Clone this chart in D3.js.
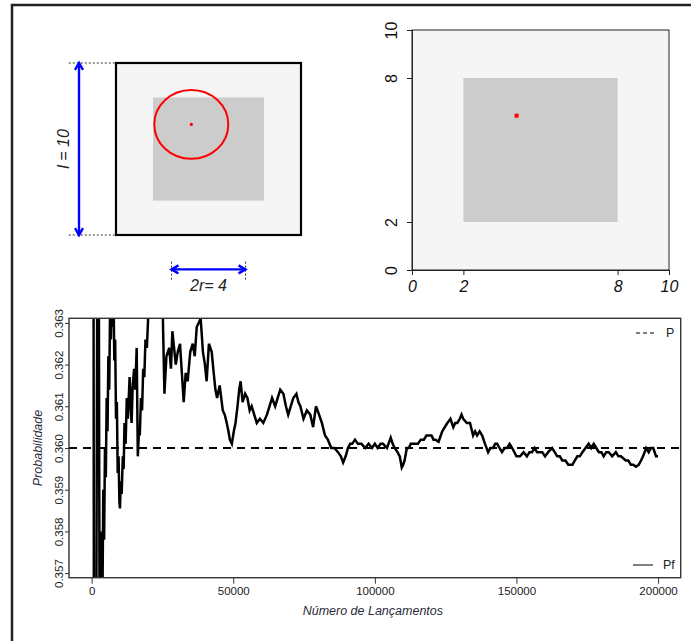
<!DOCTYPE html>
<html>
<head>
<meta charset="utf-8">
<script src="https://cdn.jsdelivr.net/npm/d3@7"></script>
<style>
  body { margin: 0; background: #fff; }
  svg { display: block; font-family: "Liberation Sans", Arial, sans-serif; }
</style>
</head>
<body>
<div id="chart"></div>
<script>
// quadrado de lado l, moeda de raio r
const lado = 10;
const raio = 2;
const centro = [4.07, 6.43];
const quadTicks = [0, 2, 8, 10];

// frequencia relativa acumulada
const lancamentos = [
  10, 700, 1000, 2300, 2900, 3200,
  3500, 3800, 4100, 4400, 4700, 5000, 5300, 5600, 5900, 6200, 6500, 6800, 7100, 7400, 7700,
  8000, 8300, 8600, 8900, 9200, 9500, 9800, 10000, 10300, 10600, 11000, 11300, 11600, 12000, 12400,
  12800, 13400, 13800, 14100, 14500, 15000, 15400, 15900, 16300, 16700, 17000, 17400, 17800, 18200, 18600,
  19000, 19500, 20000, 21000, 22000, 23000, 24000, 25000, 25700, 26400, 27400, 28000, 28500, 29700, 30400,
  31200, 32500, 33200, 33900, 34800, 35700, 36400, 37100, 38500, 39300, 40000, 40600, 41400, 42400, 43100,
  43700, 44300, 45200, 46300, 47000, 47700, 48300, 48800, 49500, 50200, 50800, 51500, 52100, 52600, 53300,
  54200, 55000, 55800, 56500, 57400, 58300, 59400, 60600, 61900, 62800, 63700, 64800, 65700, 66600, 67700,
  68600, 69400, 70300, 71200, 72300, 73000, 73700, 74800, 76000, 77200, 78200, 79200, 80300, 81300, 82400,
  83400, 84600, 85700, 87000, 88000, 88800, 89700, 90500, 91300, 92000, 93000, 94000, 95300, 96600, 97800,
  99000, 100000, 101000, 102000, 102900, 104300, 105600, 106300, 107000, 108000, 108800, 109500, 110000, 110500, 111300,
  112000, 112700, 114000, 115200, 116200, 117300, 118200, 119000, 120000, 120700, 121400, 122500, 123800, 124700, 125600,
  126700, 127700, 128400, 129100, 130000, 130600, 131200, 132500, 133600, 134700, 135400, 136100, 137000, 137900, 138900,
  140000, 140800, 141700, 142500, 143200, 144000, 144900, 145800, 146700, 147600, 148500, 150000, 151300, 152500, 153700,
  154600, 155500, 156400, 157300, 158200, 159100, 160100, 161200, 162600, 163500, 164400, 165300, 166200, 167300, 168300,
  169800, 170600, 171500, 172400, 173300, 174400, 175500, 176400, 177300, 178200, 179100, 180000, 180800, 181700, 182600,
  183800, 185100, 186000, 186900, 188600, 189500, 190400, 191300, 192200, 193200, 194000, 194700, 195800, 196700, 197500,
  198300, 199300, 200000
];
const pf = [
  0.420, 0.362, 0.340, 0.372, 0.352, 0.3562,
  0.3580, 0.3562, 0.3590, 0.3578, 0.3600, 0.3593, 0.3612, 0.3604, 0.3622, 0.3614, 0.3633, 0.3626, 0.3640, 0.3629, 0.3638,
  0.3621, 0.3626, 0.3607, 0.3611, 0.3594, 0.3598, 0.3587, 0.35855, 0.3592, 0.3589, 0.3598, 0.3595, 0.3606, 0.3601, 0.3612,
  0.3607, 0.3617, 0.3610, 0.3606, 0.3615, 0.3619, 0.3614, 0.3624, 0.3598, 0.3604, 0.3603, 0.3612, 0.3609, 0.3619, 0.3617,
  0.3626, 0.3624, 0.3632, 0.3635, 0.3631, 0.3637, 0.3633, 0.3636, 0.3613, 0.3622, 0.3624, 0.3619, 0.3628, 0.3620, 0.3623,
  0.3625, 0.3611, 0.3618, 0.3616, 0.3623, 0.3625, 0.3622, 0.3629, 0.3631, 0.3623, 0.3620, 0.3616, 0.3625, 0.3623, 0.3618,
  0.3614, 0.3612, 0.3615, 0.3609, 0.3608, 0.3606, 0.3604, 0.3602, 0.36010, 0.3604, 0.3606, 0.3610, 0.3614, 0.3616, 0.3611,
  0.3613, 0.3612, 0.3609, 0.3610, 0.3608, 0.3606, 0.3607, 0.3606, 0.3608, 0.3610, 0.3612, 0.3610, 0.3612, 0.3614, 0.3613,
  0.3610, 0.3608, 0.3610, 0.3612, 0.3613, 0.3611, 0.3610, 0.3607, 0.3609, 0.3608, 0.3605, 0.3610, 0.3608, 0.3606, 0.3603,
  0.3602, 0.3600, 0.3600, 0.3599, 0.3598, 0.35965, 0.3598, 0.3600, 0.3601, 0.3601, 0.3602, 0.3601, 0.3601, 0.3600, 0.3601,
  0.3600, 0.3601, 0.3600, 0.3601, 0.3601, 0.3600, 0.36025, 0.3601, 0.3600, 0.3599, 0.3598, 0.35953, 0.3596, 0.3597, 0.3600,
  0.3600, 0.3601, 0.3601, 0.3601, 0.3602, 0.3602, 0.3603, 0.3603, 0.3603, 0.3602, 0.3602, 0.36015, 0.3604, 0.3605, 0.3606,
  0.3607, 0.3605, 0.3606, 0.3606, 0.3607, 0.3608, 0.3607, 0.3606, 0.3606, 0.3603, 0.3604, 0.3603, 0.3604, 0.3603, 0.3601,
  0.3599, 0.3600, 0.3600, 0.3601, 0.3601, 0.3600, 0.3599, 0.3600, 0.3600, 0.3601, 0.3600, 0.3598, 0.3598, 0.3599, 0.3598,
  0.3599, 0.3599, 0.3600, 0.3599, 0.3599, 0.3599, 0.3598, 0.3599, 0.3600, 0.3599, 0.3598, 0.3598, 0.3597, 0.3597, 0.3596,
  0.3596, 0.3597, 0.3598, 0.3598, 0.3599, 0.3600, 0.3601, 0.3600, 0.3601, 0.3600, 0.3599, 0.3599, 0.3598, 0.3599, 0.3599,
  0.3598, 0.3599, 0.3598, 0.3598, 0.3597, 0.3597, 0.3596, 0.3596, 0.35955, 0.3596, 0.3597, 0.3598, 0.3600, 0.3599, 0.3600,
  0.3600, 0.3598, 0.3598
];
const probTeorica = 0.36;
const xTicks = [0, 50000, 100000, 150000, 200000];
const yTicks = [0.357, 0.358, 0.359, 0.360, 0.361, 0.362, 0.363];

const W = 691, H = 641;
const svg = d3.select("#chart").append("svg").attr("width", W).attr("height", H);

// moldura externa
svg.append("path")
    .attr("d", `M12,641 V5 H691`)
    .attr("fill", "none")
    .attr("stroke", "#222")
    .attr("stroke-width", 2.5);

// ---------- painel 1: esquema ----------
const x1 = d3.scaleLinear().domain([0, lado]).range([116, 301]);
const y1 = d3.scaleLinear().domain([0, lado]).range([235, 63]);
const p1 = svg.append("g");

p1.append("rect")
    .attr("x", x1(0)).attr("y", y1(lado))
    .attr("width", x1(lado) - x1(0)).attr("height", y1(0) - y1(lado))
    .attr("fill", "#f5f5f5").attr("stroke", "#000").attr("stroke-width", 2.2);
p1.append("rect")
    .attr("x", x1(raio)).attr("y", y1(lado - raio))
    .attr("width", x1(lado - raio) - x1(raio)).attr("height", y1(raio) - y1(lado - raio))
    .attr("fill", "#cccccc");
p1.append("ellipse")
    .attr("cx", x1(centro[0])).attr("cy", y1(centro[1]))
    .attr("rx", x1(raio) - x1(0)).attr("ry", y1(0) - y1(raio))
    .attr("fill", "none").attr("stroke", "red").attr("stroke-width", 2);
p1.append("circle")
    .attr("cx", x1(centro[0])).attr("cy", y1(centro[1]))
    .attr("r", 1.6).attr("fill", "red");

// linhas de chamada tracejadas
[0, lado].forEach(v => {
  p1.append("line")
      .attr("x1", x1(-2.55)).attr("x2", x1(0))
      .attr("y1", y1(v)).attr("y2", y1(v))
      .attr("stroke", "#000").attr("stroke-dasharray", "2,2").attr("stroke-width", 0.8);
});
[3, 7].forEach(v => {
  p1.append("line")
      .attr("x1", x1(v)).attr("x2", x1(v))
      .attr("y1", y1(-1.55)).attr("y2", y1(-2.6))
      .attr("stroke", "#000").attr("stroke-dasharray", "2,2").attr("stroke-width", 0.8);
});

function seta(g, xa, ya, xb, yb) {
  g.append("line").attr("x1", xa).attr("y1", ya).attr("x2", xb).attr("y2", yb)
      .attr("stroke", "#0000ff").attr("stroke-width", 2.4);
  const ang = Math.atan2(yb - ya, xb - xa);
  const L = 8, a = Math.PI / 6;
  [[xb, yb, ang], [xa, ya, ang + Math.PI]].forEach(([px, py, t]) => {
    g.append("path")
        .attr("d", `M${px - L * Math.cos(t - a)},${py - L * Math.sin(t - a)} L${px},${py} L${px - L * Math.cos(t + a)},${py - L * Math.sin(t + a)}`)
        .attr("fill", "none").attr("stroke", "#0000ff").attr("stroke-width", 2.4);
  });
}
seta(p1, x1(-2), y1(0), x1(-2), y1(lado));
seta(p1, x1(3), y1(-2), x1(7), y1(-2));

p1.append("text")
    .attr("transform", `translate(${x1(-2.85)},${(y1(0) + y1(lado)) / 2}) rotate(-90)`)
    .attr("text-anchor", "middle").attr("dy", "0.35em")
    .style("font-size", "16px").style("font-style", "italic").attr("fill", "#222")
    .text("l = 10");
p1.append("text")
    .attr("x", x1(5)).attr("y", 291)
    .attr("text-anchor", "middle")
    .style("font-size", "16px").style("font-style", "italic").attr("fill", "#222")
    .text("2r=  4");

// ---------- painel 2: regiao favoravel ----------
const x2 = d3.scaleLinear().domain([0, lado]).range([412, 669]);
const y2 = d3.scaleLinear().domain([0, lado]).range([270, 30]);
const p2 = svg.append("g");

p2.append("rect")
    .attr("x", x2(0)).attr("y", y2(lado))
    .attr("width", x2(lado) - x2(0)).attr("height", y2(0) - y2(lado))
    .attr("fill", "#f5f5f5").attr("stroke", "#222").attr("stroke-width", 1);
p2.append("rect")
    .attr("x", x2(raio)).attr("y", y2(lado - raio))
    .attr("width", x2(lado - raio) - x2(raio)).attr("height", y2(raio) - y2(lado - raio))
    .attr("fill", "#cccccc");
p2.append("rect")
    .attr("x", x2(centro[0]) - 2).attr("y", y2(centro[1]) - 2)
    .attr("width", 4).attr("height", 4).attr("fill", "red");

const ax2 = p2.append("g").attr("transform", `translate(0,${y2(0)})`)
    .call(d3.axisBottom(x2).tickValues(quadTicks).tickSize(5).tickFormat(d3.format("d")));
ax2.selectAll("text").style("font-size", "16px").style("font-style", "italic")
    .attr("fill", "#111").attr("y", 11);
const ay2 = p2.append("g").attr("transform", `translate(${x2(0)},0)`)
    .call(d3.axisLeft(y2).tickValues(quadTicks).tickSize(5).tickFormat(d3.format("d")));
ay2.selectAll("text").style("font-size", "16px").attr("fill", "#111")
    .attr("x", 0).attr("dy", "0.35em")
    .attr("transform", "translate(-21,0) rotate(-90)")
    .attr("text-anchor", "middle");
[ax2, ay2].forEach(a => {
  a.select(".domain").attr("stroke", "#222");
  a.selectAll("line").attr("stroke", "#222");
});

// ---------- painel 3: convergencia ----------
const mg = { left: 69, right: 680.7, top: 318.3, bottom: 577.7 };
const x3 = d3.scaleLinear().domain([-8000, 208000]).range([mg.left, mg.right]);
const y3 = d3.scaleLinear().domain([0.35689, 0.36311]).range([mg.bottom, mg.top]);
const p3 = svg.append("g");

p3.append("clipPath").attr("id", "clip3")
  .append("rect").attr("x", mg.left).attr("y", mg.top)
  .attr("width", mg.right - mg.left).attr("height", mg.bottom - mg.top);

const serie = lancamentos.map((n, i) => ({ n, p: pf[i] }));
p3.append("path")
    .datum(serie)
    .attr("clip-path", "url(#clip3)")
    .attr("fill", "none").attr("stroke", "#000").attr("stroke-width", 2.5)
    .attr("stroke-linejoin", "miter")
    .attr("d", d3.line().x(d => x3(d.n)).y(d => y3(d.p)));

p3.append("line")
    .attr("clip-path", "url(#clip3)")
    .attr("x1", mg.left).attr("x2", mg.right)
    .attr("y1", y3(probTeorica)).attr("y2", y3(probTeorica))
    .attr("stroke", "#000").attr("stroke-width", 2).attr("stroke-dasharray", "8,6");

p3.append("rect")
    .attr("x", mg.left).attr("y", mg.top)
    .attr("width", mg.right - mg.left).attr("height", mg.bottom - mg.top)
    .attr("fill", "none").attr("stroke", "#333").attr("stroke-width", 1.4);

const ax3 = p3.append("g").attr("transform", `translate(0,${mg.bottom})`)
    .call(d3.axisBottom(x3).tickValues(xTicks).tickSize(6).tickFormat(d3.format("d")));
ax3.select(".domain").remove();
ax3.selectAll("line").attr("stroke", "#333");
ax3.selectAll("text").style("font-size", "11.5px").attr("fill", "#222").attr("y", 9);

const ay3 = p3.append("g").attr("transform", `translate(${mg.left},0)`)
    .call(d3.axisLeft(y3).tickValues(yTicks).tickSize(4).tickFormat(d3.format(".3f")));
ay3.select(".domain").remove();
ay3.selectAll("line").attr("stroke", "#333");
ay3.selectAll("text").style("font-size", "11.5px").attr("fill", "#222")
    .attr("x", 0).attr("dy", "0.35em")
    .attr("transform", "translate(-10,0) rotate(-90)")
    .attr("text-anchor", "middle");

p3.append("text")
    .attr("x", x3(100000) - 2).attr("y", 615)
    .attr("text-anchor", "middle")
    .style("font-size", "12.5px").style("font-style", "italic").attr("fill", "#2a2a3a")
    .text("Número de Lançamentos");
p3.append("text")
    .attr("transform", `translate(38,${y3(probTeorica)}) rotate(-90)`)
    .attr("text-anchor", "middle").attr("dy", "0.35em")
    .style("font-size", "12.5px").style("font-style", "italic").attr("fill", "#2a2a3a")
    .text("Probabilidade");

// legenda
p3.append("line")
    .attr("x1", 636).attr("x2", 656).attr("y1", 333).attr("y2", 333)
    .attr("stroke", "#000").attr("stroke-width", 1).attr("stroke-dasharray", "4,3");
p3.append("text").attr("x", 666).attr("y", 333).attr("dy", "0.35em")
    .style("font-size", "12.5px").attr("fill", "#222").text("P");
p3.append("line")
    .attr("x1", 633).attr("x2", 653).attr("y1", 565).attr("y2", 565)
    .attr("stroke", "#555").attr("stroke-width", 1.5);
p3.append("text").attr("x", 663).attr("y", 565).attr("dy", "0.35em")
    .style("font-size", "12.5px").attr("fill", "#222").text("Pf");
</script>
</body>
</html>
